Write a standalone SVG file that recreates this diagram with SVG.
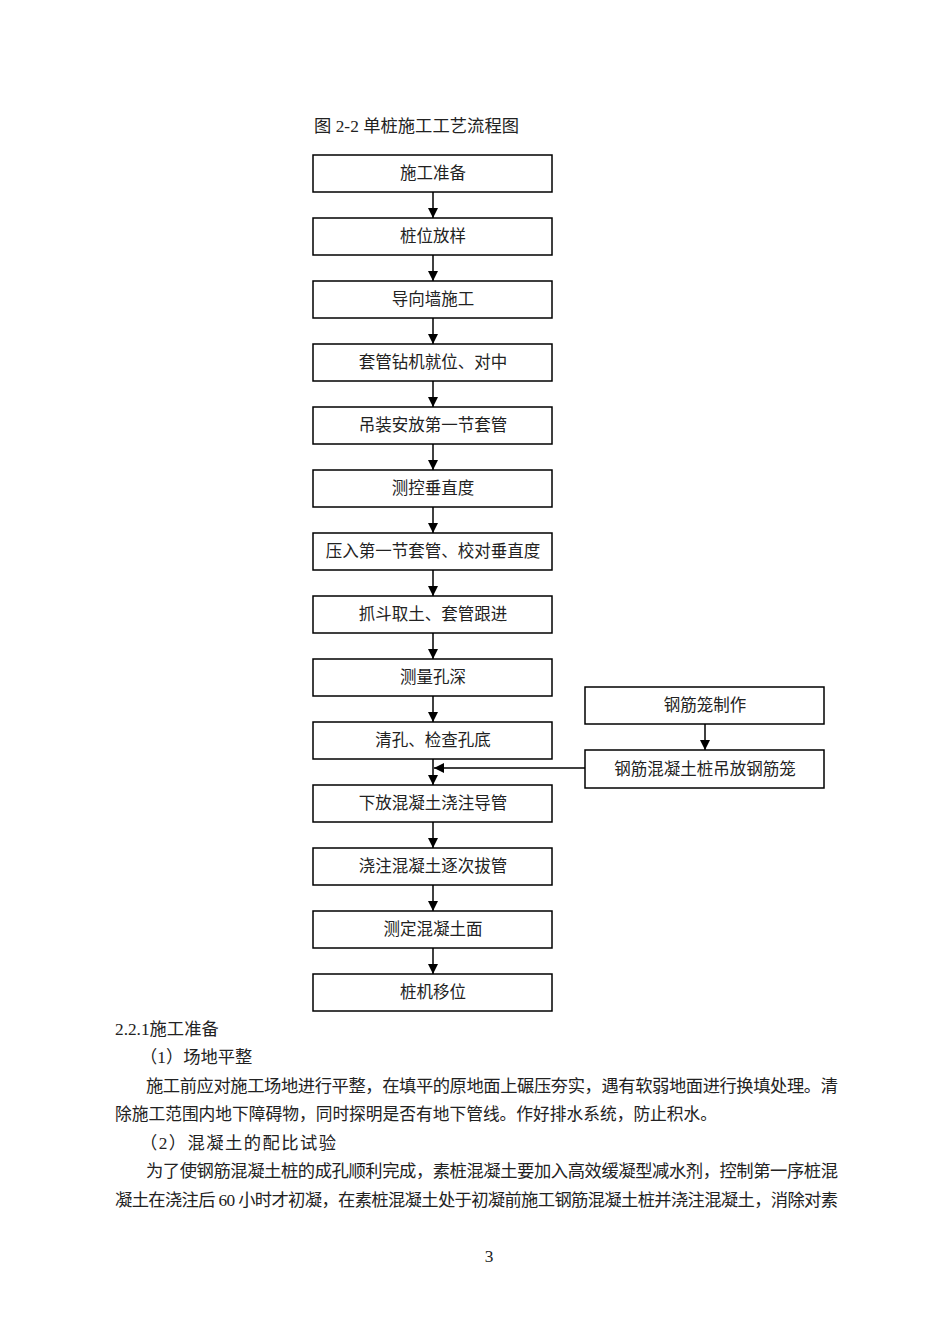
<svg xmlns="http://www.w3.org/2000/svg" width="950" height="1344" viewBox="0 0 950 1344">
<style>
.bx{fill:#fff;stroke:#000;stroke-width:1.5}
.bt{font-family:"Liberation Serif","Noto Sans CJK SC",serif;font-size:16.5px;fill:#222;text-anchor:middle}
.tx{font-family:"Liberation Serif","Noto Sans CJK SC",serif;font-size:17.3px;fill:#222}
.ln{stroke:#000;stroke-width:1.5;fill:none}
</style>
<defs>
<marker id="ah" markerWidth="10" markerHeight="10" refX="10" refY="5" orient="auto" markerUnits="userSpaceOnUse">
<path d="M0,0 L10,5 L0,10 Z" fill="#000"/>
</marker>
</defs>
<rect width="950" height="1344" fill="#fff"/>
<text class="tx" x="314" y="132" font-size="15" textLength="205" lengthAdjust="spacing">图 2-2 单桩施工工艺流程图</text>

<g id="n1"><rect class="bx" x="313" y="155" width="239" height="37"/><text class="bt" x="433" y="179">施工准备</text></g>
<g id="n2"><rect class="bx" x="313" y="218" width="239" height="37"/><text class="bt" x="433" y="242">桩位放样</text></g>
<g id="n3"><rect class="bx" x="313" y="281" width="239" height="37"/><text class="bt" x="433" y="305">导向墙施工</text></g>
<g id="n4"><rect class="bx" x="313" y="344" width="239" height="37"/><text class="bt" x="433" y="368">套管钻机就位、对中</text></g>
<g id="n5"><rect class="bx" x="313" y="407" width="239" height="37"/><text class="bt" x="433" y="431">吊装安放第一节套管</text></g>
<g id="n6"><rect class="bx" x="313" y="470" width="239" height="37"/><text class="bt" x="433" y="494">测控垂直度</text></g>
<g id="n7"><rect class="bx" x="313" y="533" width="239" height="37"/><text class="bt" x="433" y="557">压入第一节套管、校对垂直度</text></g>
<g id="n8"><rect class="bx" x="313" y="596" width="239" height="37"/><text class="bt" x="433" y="620">抓斗取土、套管跟进</text></g>
<g id="n9"><rect class="bx" x="313" y="659" width="239" height="37"/><text class="bt" x="433" y="683">测量孔深</text></g>
<g id="n10"><rect class="bx" x="313" y="722" width="239" height="37"/><text class="bt" x="433" y="746">清孔、检查孔底</text></g>
<g id="n11"><rect class="bx" x="313" y="785" width="239" height="37"/><text class="bt" x="433" y="809">下放混凝土浇注导管</text></g>
<g id="n12"><rect class="bx" x="313" y="848" width="239" height="37"/><text class="bt" x="433" y="872">浇注混凝土逐次拔管</text></g>
<g id="n13"><rect class="bx" x="313" y="911" width="239" height="37"/><text class="bt" x="433" y="935">测定混凝土面</text></g>
<g id="n14"><rect class="bx" x="313" y="974" width="239" height="37"/><text class="bt" x="433" y="998">桩机移位</text></g>
<g id="r1"><rect class="bx" x="585" y="687" width="239" height="37"/><text class="bt" x="705" y="711">钢筋笼制作</text></g>
<g id="r2"><rect class="bx" x="585" y="750" width="239" height="38"/><text class="bt" x="705" y="775">钢筋混凝土桩吊放钢筋笼</text></g>

<g id="connectors">
<line class="ln" x1="433" y1="192" x2="433" y2="218" marker-end="url(#ah)"/>
<line class="ln" x1="433" y1="255" x2="433" y2="281" marker-end="url(#ah)"/>
<line class="ln" x1="433" y1="318" x2="433" y2="344" marker-end="url(#ah)"/>
<line class="ln" x1="433" y1="381" x2="433" y2="407" marker-end="url(#ah)"/>
<line class="ln" x1="433" y1="444" x2="433" y2="470" marker-end="url(#ah)"/>
<line class="ln" x1="433" y1="507" x2="433" y2="533" marker-end="url(#ah)"/>
<line class="ln" x1="433" y1="570" x2="433" y2="596" marker-end="url(#ah)"/>
<line class="ln" x1="433" y1="633" x2="433" y2="659" marker-end="url(#ah)"/>
<line class="ln" x1="433" y1="696" x2="433" y2="722" marker-end="url(#ah)"/>
<line class="ln" x1="433" y1="759" x2="433" y2="785" marker-end="url(#ah)"/>
<line class="ln" x1="433" y1="822" x2="433" y2="848" marker-end="url(#ah)"/>
<line class="ln" x1="433" y1="885" x2="433" y2="911" marker-end="url(#ah)"/>
<line class="ln" x1="433" y1="948" x2="433" y2="974" marker-end="url(#ah)"/>
<line class="ln" x1="705" y1="724" x2="705" y2="750" marker-end="url(#ah)"/>
<line class="ln" x1="585" y1="768" x2="434" y2="768" marker-end="url(#ah)"/>
</g>

<text class="tx" x="115" y="1035">2.2.1施工准备</text>
<text class="tx" x="140" y="1063">（1）场地平整</text>
<text class="tx" x="146" y="1092" textLength="692" lengthAdjust="spacing">施工前应对施工场地进行平整，在填平的原地面上碾压夯实，遇有软弱地面进行换填处理。清</text>
<text class="tx" x="115" y="1120" textLength="602" lengthAdjust="spacingAndGlyphs">除施工范围内地下障碍物，同时探明是否有地下管线。作好排水系统，防止积水。</text>
<text class="tx" x="140" y="1149" textLength="196" lengthAdjust="spacing">（2）混凝土的配比试验</text>
<text class="tx" x="146" y="1177" textLength="692" lengthAdjust="spacing">为了使钢筋混凝土桩的成孔顺利完成，素桩混凝土要加入高效缓凝型减水剂，控制第一序桩混</text>
<text class="tx" x="115" y="1206" textLength="723" lengthAdjust="spacing">凝土在浇注后 60 小时才初凝，在素桩混凝土处于初凝前施工钢筋混凝土桩并浇注混凝土，消除对素</text>
<text class="tx" x="489" y="1262" font-size="12" text-anchor="middle">3</text>
</svg>
